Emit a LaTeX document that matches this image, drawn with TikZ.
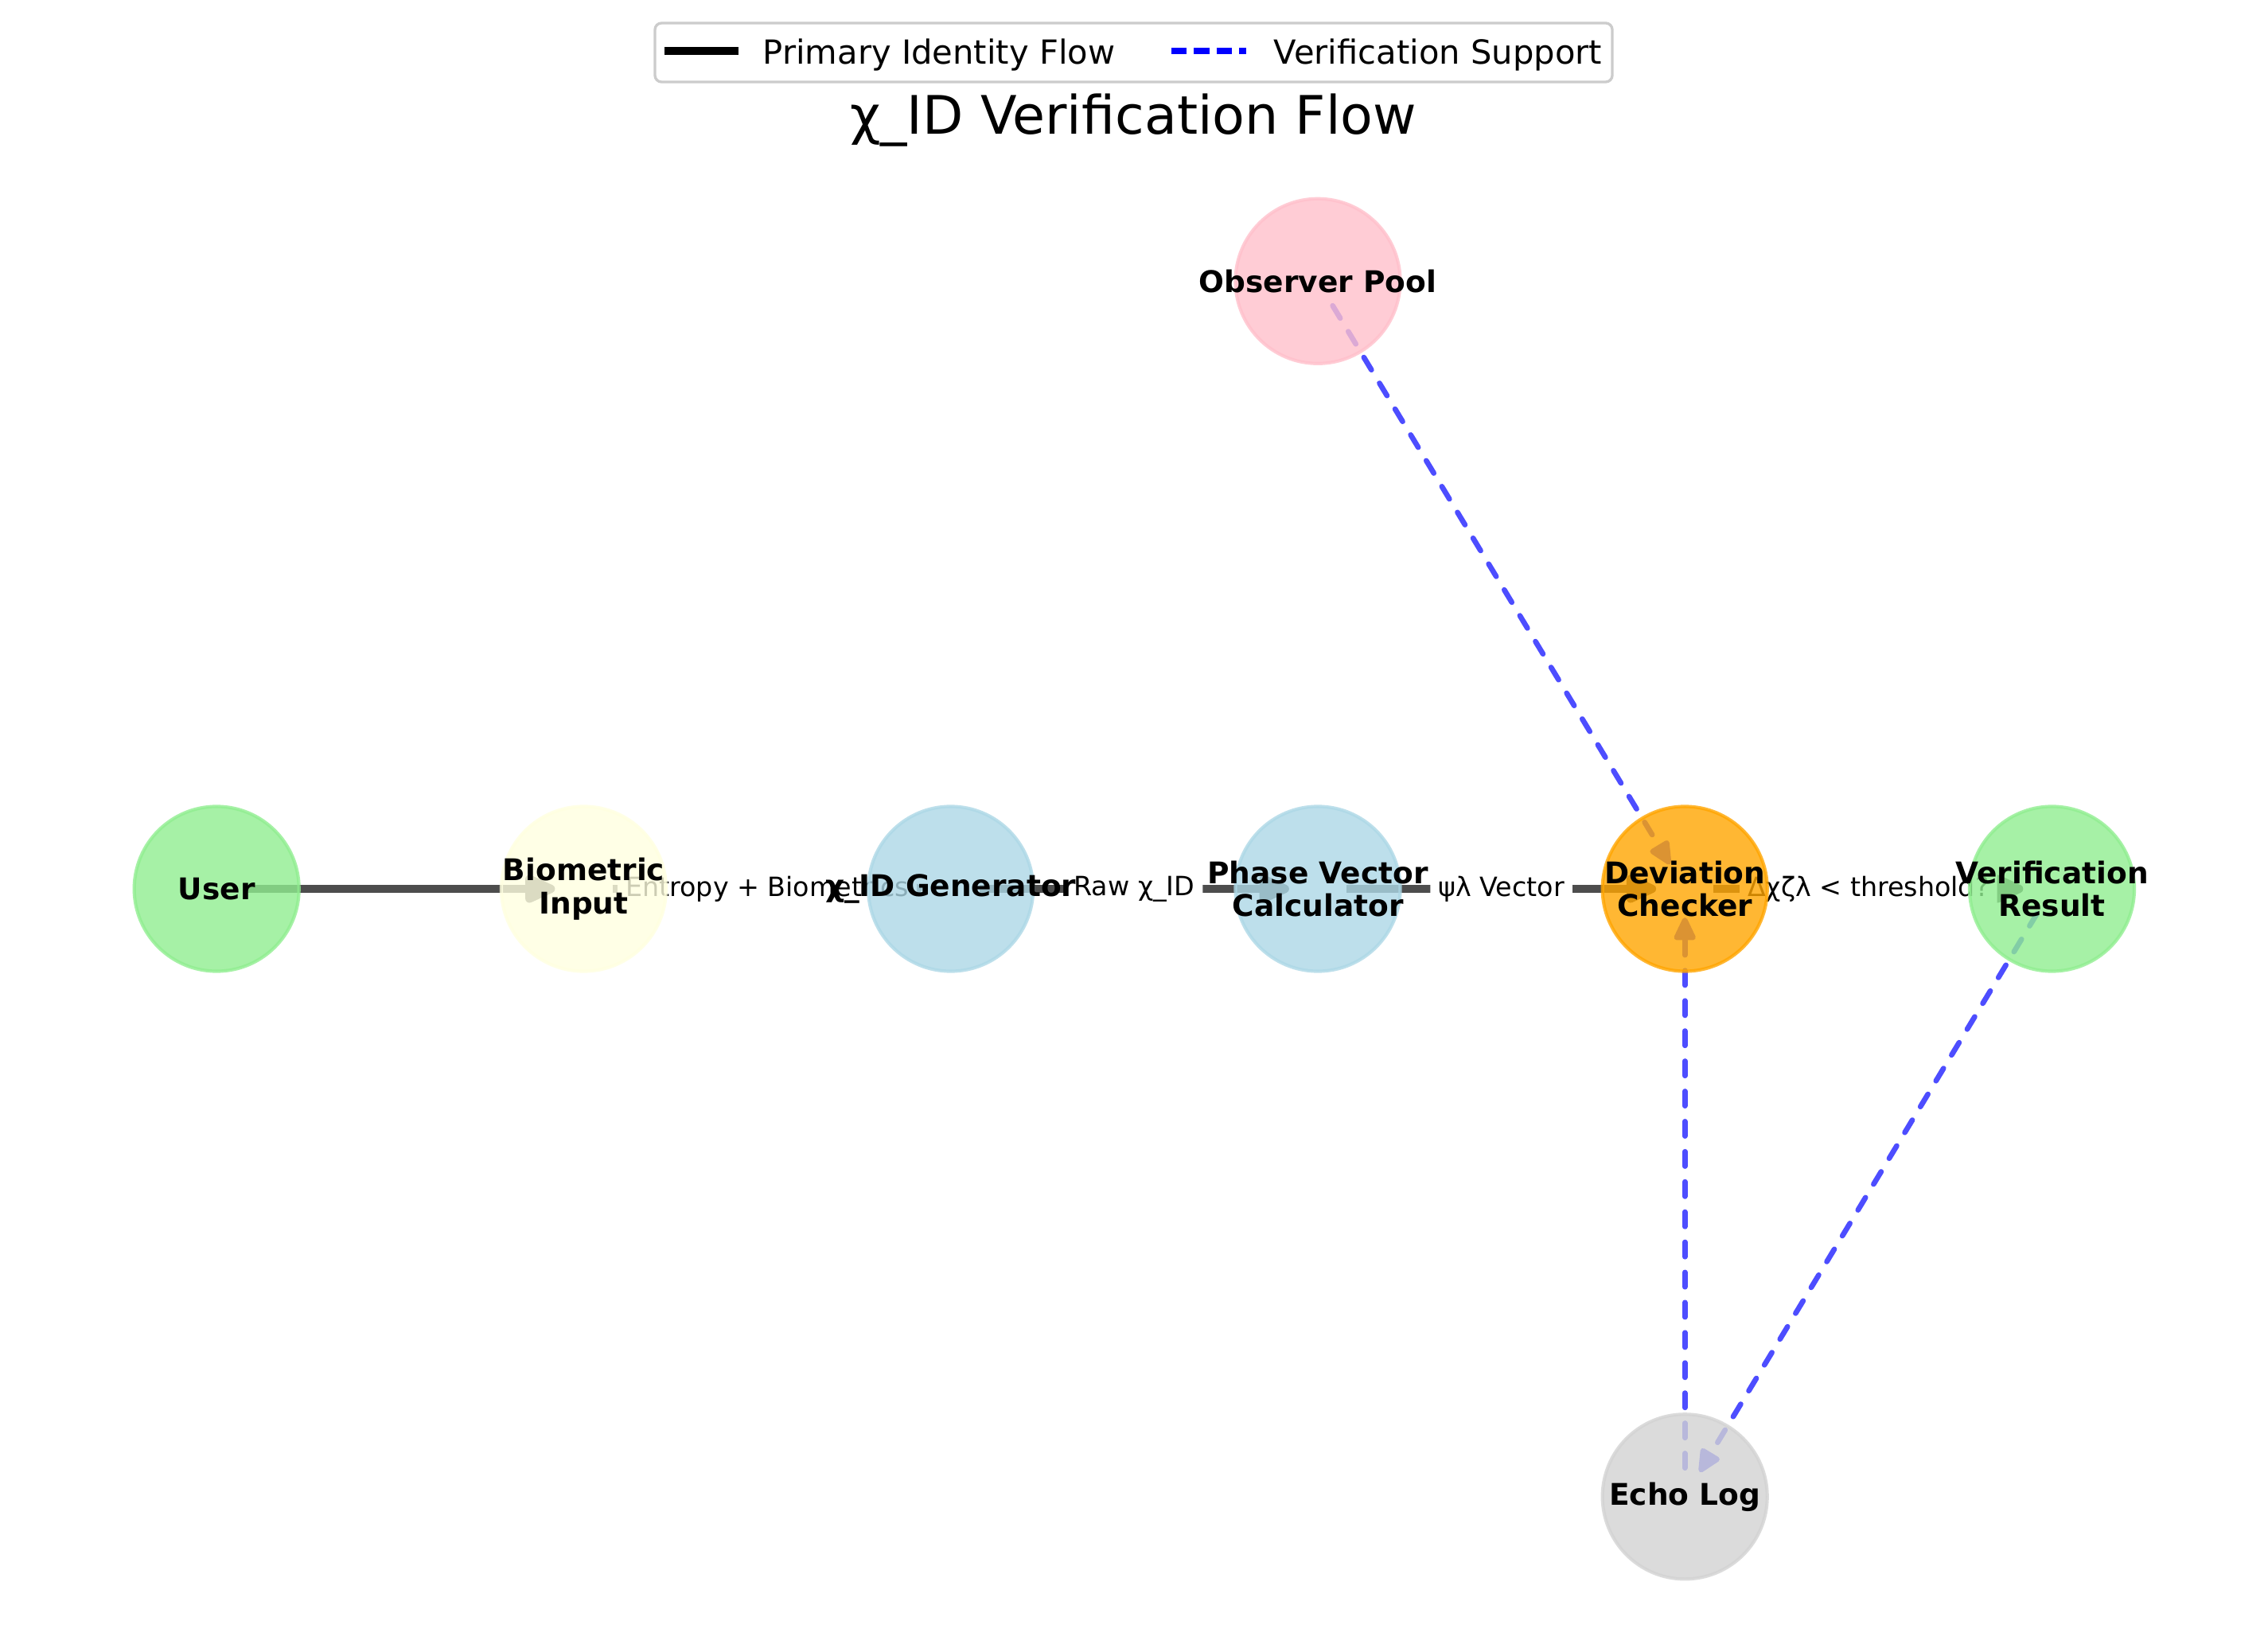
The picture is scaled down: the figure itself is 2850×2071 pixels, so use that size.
\documentclass[tikz,border=0pt]{standalone}
\usepackage{fontspec}
\setmainfont{DejaVu Sans}
\usetikzlibrary{arrows.meta,calc}
\pgfdeclarelayer{edges}
\pgfdeclarelayer{elabels}
\pgfsetlayers{edges,elabels,main}
\definecolor{cgreen}{HTML}{90EE90}
\definecolor{cyellow}{HTML}{FFFFE0}
\definecolor{cblue}{HTML}{ADD8E6}
\definecolor{corange}{HTML}{FFA500}
\definecolor{cpink}{HTML}{FFC0CB}
\definecolor{cgray}{HTML}{D3D3D3}
\definecolor{primc}{HTML}{4D4D4D}
\definecolor{suppc}{HTML}{4D4DFF}
\definecolor{legframe}{HTML}{CCCCCC}
\begin{document}
\begin{tikzpicture}[x=0.24pt,y=-0.24pt,
  vc/.style={circle, inner sep=0pt, minimum size=49.7pt, fill=#1, draw=#1, fill opacity=0.8, draw opacity=0.8, line width=1pt},
  vlab/.style={align=center, font=\fontsize{9}{10}\selectfont\bfseries, inner sep=0pt, text=black},
  elab/.style={fill=white, rounded corners=2.4pt, inner sep=2.4pt, font=\fontsize{8}{9.6}\selectfont},
  primary/.style={primc, line width=2.5pt, -{Triangle[length=11pt,width=9pt,round]}},
  support/.style={suppc, line width=1.6pt, line cap=round, dash pattern=on 4.4pt off 4.7pt, -{Triangle[length=8pt,width=7pt,round]}},
  legtext/.style={anchor=base west, inner sep=0pt, font=\fontsize{10}{12}\selectfont}
]
\begin{pgfonlayer}{edges}
  \fill[white] (0,0) rectangle (2850,2071);
\end{pgfonlayer}
\path[use as bounding box] (0,0) rectangle (2850,2071);

% nodes (circles)
\node[vc=cgreen]  (user)  at (272.2,1117) {};
\node[vc=cyellow] (bio)   at (733.5,1117) {};
\node[vc=cblue]   (gen)   at (1194.7,1117) {};
\node[vc=cblue]   (phase) at (1656,1117) {};
\node[vc=corange] (dev)   at (2117.2,1117) {};
\node[vc=cgreen]  (ver)   at (2578.5,1117) {};
\node[vc=cpink]   (obs)   at (1656,353.3) {};
\node[vc=cgray]   (echo)  at (2117.2,1880.8) {};

% node labels
\node[vlab] (userT)  at (user.center)  {User};
\node[vlab] (bioT)   at (bio.center)   {Biometric\\Input};
\node[vlab] (genT)   at (gen.center)   {χ\_ID Generator};
\node[vlab] (phaseT) at (phase.center) {Phase Vector\\Calculator};
\node[vlab] (devT)   at (dev.center)   {Deviation\\Checker};
\node[vlab] (verT)   at (ver.center)   {Verification\\Result};
\node[vlab] (obsT)   at (obs.center)   {Observer Pool};
\node[vlab] (echoT)  at (echo.center)  {Echo Log};

% connectors
\begin{pgfonlayer}{edges}
  \draw[primary] ($(user.center)!8.66pt!(bio.center)$) -- ($(bio.center)!8.66pt!(user.center)$);
  \draw[primary] ($(bio.center)!8.66pt!(gen.center)$) -- ($(gen.center)!8.66pt!(bio.center)$);
  \draw[primary] ($(gen.center)!8.66pt!(phase.center)$) -- ($(phase.center)!8.66pt!(gen.center)$);
  \draw[primary] ($(phase.center)!8.66pt!(dev.center)$) -- ($(dev.center)!8.66pt!(phase.center)$);
  \draw[primary] ($(dev.center)!8.66pt!(ver.center)$) -- ($(ver.center)!8.66pt!(dev.center)$);
  \draw[support] ($(obs.center)!8.66pt!(dev.center)$) -- ($(dev.center)!8.66pt!(obs.center)$);
  \draw[support] ($(echo.center)!8.66pt!(dev.center)$) -- ($(dev.center)!8.66pt!(echo.center)$);
  \draw[support] ($(ver.center)!8.66pt!(echo.center)$) -- ($(echo.center)!8.66pt!(ver.center)$);
\end{pgfonlayer}

% edge labels
\begin{pgfonlayer}{elabels}
  \node[elab] (l1) at ($(bio.center)!0.5!(gen.center)$) {Entropy + Biometrics};
  \node[elab] (l2) at ($(gen.center)!0.5!(phase.center)$) {Raw χ\_ID};
  \node[elab] (l3) at ($(phase.center)!0.5!(dev.center)$) {ψλ Vector};
  \node[elab] (l4) at ($(dev.center)!0.5!(ver.center)$) {Δχζλ < threshold?};
\end{pgfonlayer}

% title
\node[anchor=base, inner sep=0pt, font=\fontsize{16}{19}\selectfont] (title) at (1424,169) {χ\_ID Verification Flow};

% legend
\draw[legframe, line width=0.8pt, fill=white, fill opacity=0.8, rounded corners=2pt] (823,29) rectangle (2026,103);
\coordinate (la1) at (835,64);
\coordinate (la2) at (928,64);
\coordinate (lb1) at (1472,64);
\coordinate (lb2) at (1566,64);
\draw[black, line width=2.5pt] (la1) -- (la2);
\draw[blue, line width=1.7pt, dash pattern=on 4.6pt off 2.2pt] (lb1) -- (lb2);
\node[legtext] (legA) at (958,81) {Primary Identity Flow};
\node[legtext] (legB) at (1600,81) {Verification Support};
\end{tikzpicture}
\end{document}
